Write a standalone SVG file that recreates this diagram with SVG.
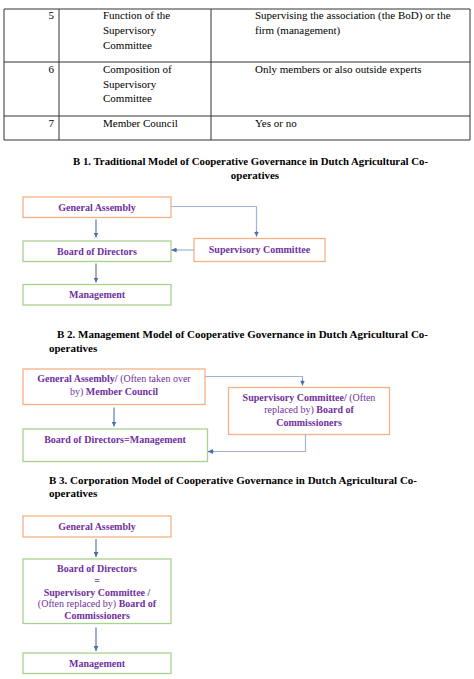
<svg xmlns="http://www.w3.org/2000/svg" width="474" height="679" viewBox="0 0 474 679">
<style>
.t{font-family:"Liberation Serif","Times New Roman",serif;font-size:11px;fill:#000}
.h{font-family:"Liberation Serif","Times New Roman",serif;font-size:11px;font-weight:bold;fill:#000}
.n{font-family:"Liberation Serif","Times New Roman",serif;font-size:10px;fill:#7030A0;text-anchor:middle}
.b{font-weight:bold}
.tl{stroke:#333;stroke-width:1;fill:none}
.or{fill:#fff;stroke:#F4B183;stroke-width:1.3}
.gr{fill:#fff;stroke:#A9D18E;stroke-width:1.3}
.ln{fill:none;stroke:#9FB4D6;stroke-width:1.2}
.ar{fill:none;stroke:#5B7DB5;stroke-width:1.2;marker-end:url(#ah)}
</style>
<defs>
<marker id="ah" viewBox="0 0 10 10" refX="10" refY="5" markerWidth="5" markerHeight="5" orient="auto" markerUnits="userSpaceOnUse">
<path d="M0,0 L10,5 L0,10 z" fill="#4A6FAE"/>
</marker>
</defs>
<rect width="474" height="679" fill="#fff"/>

<g id="table">
<path class="tl" d="M4,9 H470 M4,62 H470 M4,116 H470 M4,140 H470 M4,9 V140 M59,9 V140 M211,9 V140 M470,9 V140"/>
<text class="t" x="54" y="19" text-anchor="end">5</text>
<text class="t" x="103" y="19">Function of the</text>
<text class="t" x="103" y="34">Supervisory</text>
<text class="t" x="103" y="48.5">Committee</text>
<text class="t" x="255" y="19">Supervising the association (the BoD) or the</text>
<text class="t" x="255" y="34">firm (management)</text>
<text class="t" x="54" y="73" text-anchor="end">6</text>
<text class="t" x="103" y="73">Composition of</text>
<text class="t" x="103" y="87.5">Supervisory</text>
<text class="t" x="103" y="102">Committee</text>
<text class="t" x="255" y="73">Only members or also outside experts</text>
<text class="t" x="54" y="127" text-anchor="end">7</text>
<text class="t" x="103" y="127">Member Council</text>
<text class="t" x="255" y="127">Yes or no</text>
</g>

<g id="title-b1">
<text class="h" x="73" y="165" textLength="355" lengthAdjust="spacingAndGlyphs">B 1. Traditional Model of Cooperative Governance in Dutch Agricultural Co-</text>
<text class="h" x="255" y="178.5" text-anchor="middle">operatives</text>
</g>

<g id="b1-general-assembly">
<rect class="or" x="23" y="197" width="148" height="20.5"/>
<text class="n b" x="97" y="210.5">General Assembly</text>
</g>
<g id="b1-board">
<rect class="gr" x="23" y="241" width="148" height="20.5"/>
<text class="n b" x="97" y="254.5">Board of Directors</text>
</g>
<g id="b1-management">
<rect class="gr" x="23" y="284.5" width="148" height="20.5"/>
<text class="n b" x="97" y="298">Management</text>
</g>
<g id="b1-supervisory">
<rect class="or" x="194" y="238.5" width="131" height="23"/>
<text class="n b" x="259.5" y="252.5">Supervisory Committee</text>
</g>

<g id="b2-title">
<text class="h" x="57" y="338" textLength="371" lengthAdjust="spacingAndGlyphs">B 2. Management Model of Cooperative Governance in Dutch Agricultural Co-</text>
<text class="h" x="49" y="352">operatives</text>
</g>
<g id="b2-general-assembly">
<rect class="or" x="23" y="369" width="182" height="35.5"/>
<text class="n" x="114" y="382"><tspan class="b">General Assembly/</tspan> (Often taken over</text>
<text class="n" x="114" y="394.5">by) <tspan class="b">Member Council</tspan></text>
</g>
<g id="b2-supervisory">
<rect class="or" x="228.5" y="387.5" width="161" height="47"/>
<text class="n" x="309" y="400.5"><tspan class="b">Supervisory Committee/</tspan> (Often</text>
<text class="n" x="309" y="413">replaced by) <tspan class="b">Board of</tspan></text>
<text class="n" x="309" y="426"><tspan class="b">Commissioners</tspan></text>
</g>
<g id="b2-board-management">
<rect class="gr" x="23" y="429" width="184.5" height="32.5"/>
<text class="n b" x="115" y="443">Board of Directors=Management</text>
</g>

<g id="b3-title">
<text class="h" x="49" y="483.5" textLength="368" lengthAdjust="spacingAndGlyphs">B 3. Corporation Model of Cooperative Governance in Dutch Agricultural Co-</text>
<text class="h" x="49" y="497">operatives</text>
</g>
<g id="b3-general-assembly">
<rect class="or" x="23" y="516" width="148" height="21"/>
<text class="n b" x="97" y="529.5">General Assembly</text>
</g>
<g id="b3-board">
<rect class="gr" x="23" y="559" width="148" height="64.5"/>
<text class="n b" x="97" y="572">Board of Directors</text>
<text class="n b" x="97" y="583.5">=</text>
<text class="n b" x="97" y="595.5">Supervisory Committee /</text>
<text class="n" x="97" y="607">(Often replaced by) <tspan class="b">Board of</tspan></text>
<text class="n b" x="97" y="618.5">Commissioners</text>
</g>
<g id="b3-management">
<rect class="gr" x="23" y="653" width="148" height="20.5"/>
<text class="n b" x="97" y="666.5">Management</text>
</g>

<g id="connectors">
<path class="ar" d="M96,219.5 V237.5"/>
<path class="ln" d="M171,206.5 H256.5 V232"/>
<path class="ar" d="M256.5,231 V236.5"/>
<path class="ln" d="M194,250 H176"/>
<path class="ar" d="M177,250 H171.5"/>
<path class="ar" d="M96,263.5 V282.5"/>

<path class="ln" d="M205,376.5 H302.5 V381"/>
<path class="ar" d="M302.5,380 V385.5"/>
<path class="ar" d="M114,407.5 V426.5"/>
<path class="ln" d="M305.5,434.5 V451.5 H213"/>
<path class="ar" d="M214,451.5 H208"/>

<path class="ar" d="M96,539 V557"/>
<path class="ar" d="M96,627.5 V651"/>
</g>
</svg>
